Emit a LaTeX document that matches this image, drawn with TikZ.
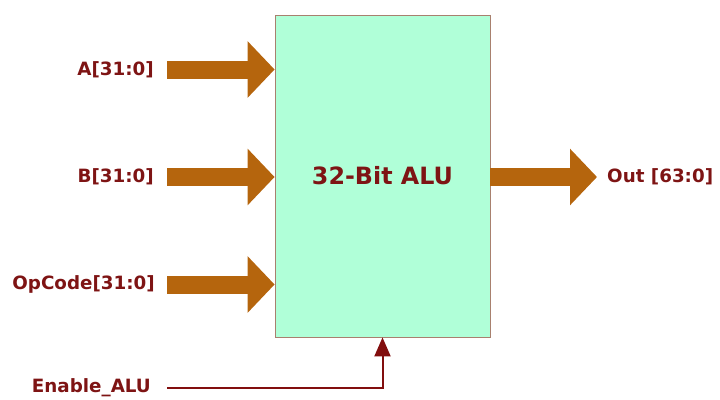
\documentclass[tikz,border=0pt]{standalone}
\usepackage{fontspec}
\setmainfont{DejaVu Sans}
\usetikzlibrary{arrows.meta}
\definecolor{lbl}{HTML}{7E1414}
\definecolor{boxfill}{HTML}{B0FFD8}
\definecolor{boxline}{HTML}{A8806E}
\definecolor{bus}{HTML}{B5650D}
\definecolor{wire}{HTML}{820E0E}
\tikzset{
  sig/.style={font=\fontsize{18.3}{21}\selectfont\bfseries, text=lbl, inner sep=0pt},
  busarrow/.style={draw=bus, line width=18pt, -{Triangle[length=27pt,width=55pt]}, bus},
  wirearrow/.style={draw=wire, line width=2pt, -{Triangle[length=19pt,width=16pt]}},
}
\begin{document}
\begin{tikzpicture}[x=1pt,y=-1pt]
\useasboundingbox (0,0) rectangle (720,399);
\node[draw=boxline, fill=boxfill, line width=0.8pt, minimum width=215pt, minimum height=322pt, inner sep=0pt,
  font=\fontsize{23.8}{27}\selectfont\bfseries, text=lbl] (alu) at (382.5,176) {32-Bit ALU};
\node[sig, anchor=east] (a) at (154,69.5) {A[31:0]};
\node[sig, anchor=east] (b) at (154,177) {B[31:0]};
\node[sig, anchor=east] (op) at (155,284.5) {OpCode[31:0]};
\node[sig, anchor=west] (out) at (607,177) {Out [63:0]};
\node[sig, anchor=east] (en) at (151,388) {Enable\_ALU};
\coordinate (outend) at (597,177);
\coordinate (enbend) at (alu.south |- en);
\draw[busarrow] ([xshift=13pt]a.east) -- (alu.west |- a.east);
\draw[busarrow] ([xshift=13pt]b.east) -- (alu.west |- b.east);
\draw[busarrow] ([xshift=12pt]op.east) -- (alu.west |- op.east);
\draw[busarrow] (alu.east |- outend) -- (outend);
\draw[wirearrow] ([xshift=16pt]en.east) -- (enbend) -- (alu.south);
\end{tikzpicture}
\end{document}
